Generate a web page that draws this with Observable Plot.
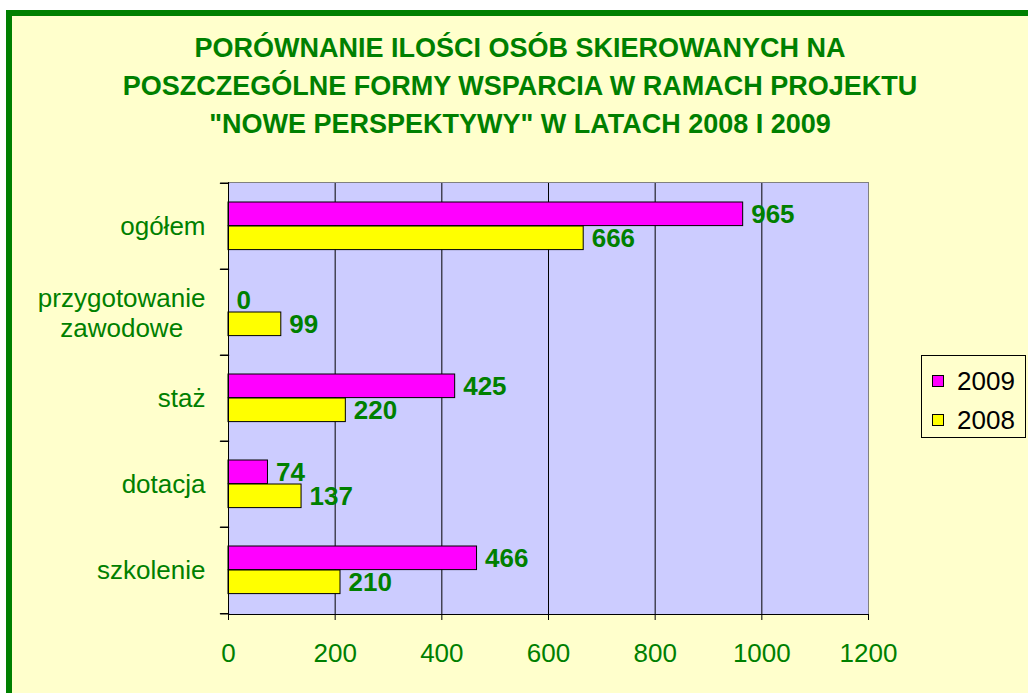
<!DOCTYPE html>
<html>
<head>
<meta charset="utf-8">
<script src="https://cdn.jsdelivr.net/npm/d3@7"></script>
<script src="https://cdn.jsdelivr.net/npm/@observablehq/plot@0.6"></script>
<style>
  html, body { margin: 0; padding: 0; background: #ffffff; overflow: hidden; width: 1028px; height: 693px; }
  body { position: relative; font-family: "Liberation Sans", Arial, sans-serif; }
  #box { position: absolute; left: 6px; top: 10px; width: 1100px; height: 800px; border: 6px solid #008000; background: #FFFFCC; }
  #title { position: absolute; left: 0; top: 29px; width: 1040px; text-align: center; color: #008000; font-weight: bold; font-size: 27px; line-height: 38px; white-space: nowrap; }
  #chart { position: absolute; left: 0; top: 160px; }
  #legend { position: absolute; left: 921px; top: 355px; width: 103px; height: 81px; border: 1px solid #000; background: #FFFFCC; }
  .item { position: absolute; left: 10px; height: 30px; font-size: 26px; line-height: 30px; color: #000; }
  .sw { position: absolute; left: 0; top: 9px; width: 10px; height: 10px; border: 1px solid #000; }
  .lab { position: absolute; left: 25px; top: 0; }
</style>
</head>
<body>
<div id="box"></div>
<div id="title">PORÓWNANIE ILOŚCI OSÓB SKIEROWANYCH NA<br>POSZCZEGÓLNE FORMY WSPARCIA W RAMACH PROJEKTU<br>"NOWE PERSPEKTYWY" W LATACH 2008 I 2009</div>
<div id="chart"></div>
<div id="legend"></div>
<script>
// ---- data ----
const categories = ["ogółem", "przygotowanie\nzawodowe", "staż", "dotacja", "szkolenie"];
const values2009 = [965, 0, 425, 74, 466];
const values2008 = [666, 99, 220, 137, 210];
const seriesNames = ["2009", "2008"];
const seriesColors = ["#FF00FF", "#FFFF00"];
const xTicks = [0, 200, 400, 600, 800, 1000, 1200];

const rows2009 = categories.map((c, i) => ({category: c, value: values2009[i]}));
const rows2008 = categories.map((c, i) => ({category: c, value: values2008[i]}));

const green = "#008000";
const font = "Liberation Sans, Arial, sans-serif";

// measure multi-line label width to centre lines within a right-aligned block
const canvas = document.createElement("canvas");
const ctx = canvas.getContext("2d");
ctx.font = "26px 'Liberation Sans'";
const singleCats = categories.filter(c => !c.includes("\n"));
const multiCats = categories.filter(c => c.includes("\n"));
const multiWidth = d3.max(multiCats, c => d3.max(c.split("\n"), l => ctx.measureText(l).width)) || 0;
const labelGap = 23;

const lineShape = {draw(context, l) { context.moveTo(0, 0); context.lineTo(0, -l); }};

const chart = Plot.plot({
  width: 900,
  height: 533,
  marginLeft: 228,
  marginRight: 32,
  marginTop: 22,
  marginBottom: 79,
  style: {background: "transparent", fontFamily: font, overflow: "visible"},
  x: {domain: [0, 1200], ticks: xTicks, label: null},
  y: {domain: categories, padding: 0, axis: null, label: null},
  marks: [
    Plot.frame({fill: "#CCCCFF", stroke: null}),
    Plot.ruleX(xTicks.slice(1, -1), {stroke: "#000"}),
    Plot.ruleX([1200], {stroke: "#808080"}),
    Plot.frame({anchor: "top", stroke: "#808080"}),
    Plot.barX(rows2009, {y: "category", x: "value", fill: seriesColors[0], stroke: "#000", strokeWidth: 1, insetTop: 19, insetBottom: 43.4}),
    Plot.barX(rows2008, {y: "category", x: "value", fill: seriesColors[1], stroke: "#000", strokeWidth: 1, insetTop: 43, insetBottom: 19.4}),
    Plot.ruleX([0], {stroke: "#000"}),
    Plot.frame({anchor: "bottom", stroke: "#000"}),
    Plot.vector(categories, {y: d => d, frameAnchor: "left", dy: -43.2, rotate: 90, length: 8, anchor: "end", shape: lineShape, stroke: "#000"}),
    Plot.vector(categories.slice(-1), {y: d => d, frameAnchor: "left", dy: 43.2, rotate: 90, length: 8, anchor: "end", shape: lineShape, stroke: "#000"}),
    Plot.text(rows2009, {y: "category", x: "value", text: d => String(d.value), dx: 8, dy: -12, textAnchor: "start", fill: green, fontWeight: "bold", fontSize: 26}),
    Plot.text(rows2008, {y: "category", x: "value", text: d => String(d.value), dx: 8, dy: 12, textAnchor: "start", fill: green, fontWeight: "bold", fontSize: 26}),
    Plot.text(singleCats, {y: d => d, text: d => d, frameAnchor: "left", textAnchor: "end", dx: -labelGap, fill: green, fontSize: 26}),
    Plot.text(multiCats, {y: d => d, text: d => d, frameAnchor: "left", textAnchor: "middle", dx: -labelGap - multiWidth / 2, lineHeight: 1.15, fill: green, fontSize: 26}),
    Plot.axisX({ticks: xTicks, tickSize: 6, tickPadding: 23, fontSize: 26, stroke: "#000", fill: green, label: null, tickFormat: d => String(d)})
  ]
});
document.getElementById("chart").appendChild(chart);

// legend
const legend = document.getElementById("legend");
seriesNames.forEach((name, i) => {
  const item = document.createElement("div");
  item.className = "item";
  item.style.top = (10 + i * 39) + "px";
  const sw = document.createElement("div");
  sw.className = "sw";
  sw.style.background = seriesColors[i];
  const lab = document.createElement("div");
  lab.className = "lab";
  lab.textContent = name;
  item.appendChild(sw);
  item.appendChild(lab);
  legend.appendChild(item);
});
</script>
</body>
</html>
